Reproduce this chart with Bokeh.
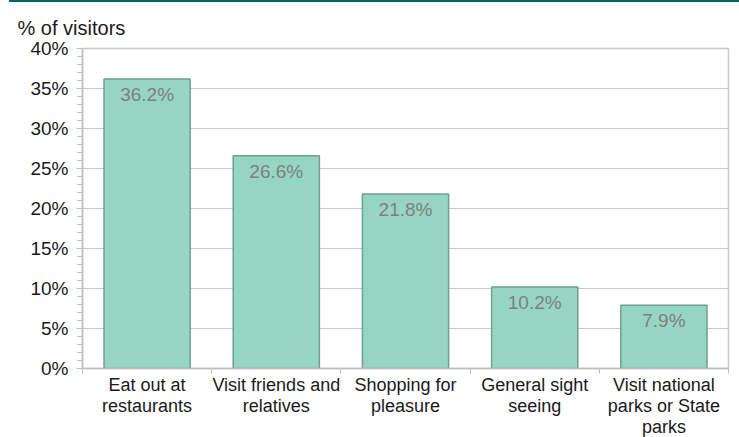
from bokeh.plotting import figure
from bokeh.models import FixedTicker, Range1d, ColumnDataSource, Div
from bokeh.layouts import column
from bokeh.embed import file_html
from bokeh.resources import INLINE
from bokeh.core.properties import value

categories = ["Eat out at\nrestaurants", "Visit friends and\nrelatives", "Shopping for\npleasure",
              "General sight\nseeing", "Visit national\nparks or State\nparks"]
values = [36.2, 26.6, 21.8, 10.2, 7.9]
y_ticks = [0, 5, 10, 15, 20, 25, 30, 35, 40]
y_tick_labels = ["0%", "5%", "10%", "15%", "20%", "25%", "30%", "35%", "40%"]
y_label = "% of visitors"

FONT = "Liberation Sans"
n = len(categories)
xs = [i + 0.5 for i in range(n)]
labels = [f"{v:.1f}%" for v in values]

src = ColumnDataSource(dict(x=xs, top=values, lab=labels))

p = figure(width=739, height=432, output_backend="svg", toolbar_location=None,
           x_range=Range1d(0, n), y_range=Range1d(0, 40),
           min_border_left=82, min_border_right=11, min_border_top=41, min_border_bottom=64)
p.background_fill_color = "white"
p.border_fill_color = "white"
p.outline_line_color = "#c8c8c8"
p.outline_line_width = 1.5

p.title.text = y_label
p.title.text_font = FONT
p.title.text_font_size = "20px"
p.title.text_font_style = "normal"
p.title.text_color = "#1a1a1a"
p.title.align = "left"
p.title.vertical_align = "top"
p.title.offset = -65
p.title.standoff = 16

p.vbar(x="x", top="top", width=0.667, source=src, fill_color="#97d5c3",
       line_color="#6f9f91", line_width=1.5)
p.text(x="x", y="top", text="lab", source=src, y_offset=5, text_align="center",
       text_baseline="top", text_font=value(FONT), text_font_size="19px", text_color="#7f7f7f")

# x axis
p.xaxis.ticker = FixedTicker(ticks=xs, minor_ticks=list(range(n + 1)))
p.xaxis.major_label_overrides = {x: c for x, c in zip(xs, categories)}
p.xaxis.major_tick_line_color = None
p.xaxis.major_tick_out = 0
p.xaxis.major_tick_in = 0
p.xaxis.minor_tick_line_color = "#bfbfbf"
p.xaxis.minor_tick_in = 0
p.xaxis.minor_tick_out = 5
p.xaxis.axis_line_color = "#bfbfbf"
p.xaxis.axis_line_width = 1.5
p.xaxis.major_label_text_font = FONT
p.xaxis.major_label_text_font_size = "18px"
p.xaxis.major_label_text_color = "#1a1a1a"
p.xaxis.major_label_text_line_height = 1.05
p.xaxis.major_label_standoff = 1
p.xgrid.grid_line_color = None

# y axis
p.yaxis.ticker = FixedTicker(ticks=y_ticks, minor_ticks=list(range(0, 41)))
p.yaxis.major_label_overrides = {t: l for t, l in zip(y_ticks, y_tick_labels)}
p.yaxis.major_tick_line_color = "#bfbfbf"
p.yaxis.major_tick_in = 0
p.yaxis.major_tick_out = 6
p.yaxis.minor_tick_line_color = "#bfbfbf"
p.yaxis.minor_tick_in = 0
p.yaxis.minor_tick_out = 5
p.yaxis.axis_line_color = "#bfbfbf"
p.yaxis.axis_line_width = 1.5
p.yaxis.major_label_text_font = FONT
p.yaxis.major_label_text_font_size = "19px"
p.yaxis.major_label_text_color = "#1a1a1a"
p.yaxis.major_label_standoff = 8
p.ygrid.ticker = FixedTicker(ticks=y_ticks)
p.ygrid.grid_line_color = "#c8c8c8"
p.ygrid.grid_line_width = 1

band = Div(text="", width=730, height=5,
           styles={"background-color": "#006666", "margin-left": "9px"})
layout = column(band, p, spacing=0, styles={"margin-top": "-8px"})

open("out.html", "w").write(file_html(layout, INLINE))
